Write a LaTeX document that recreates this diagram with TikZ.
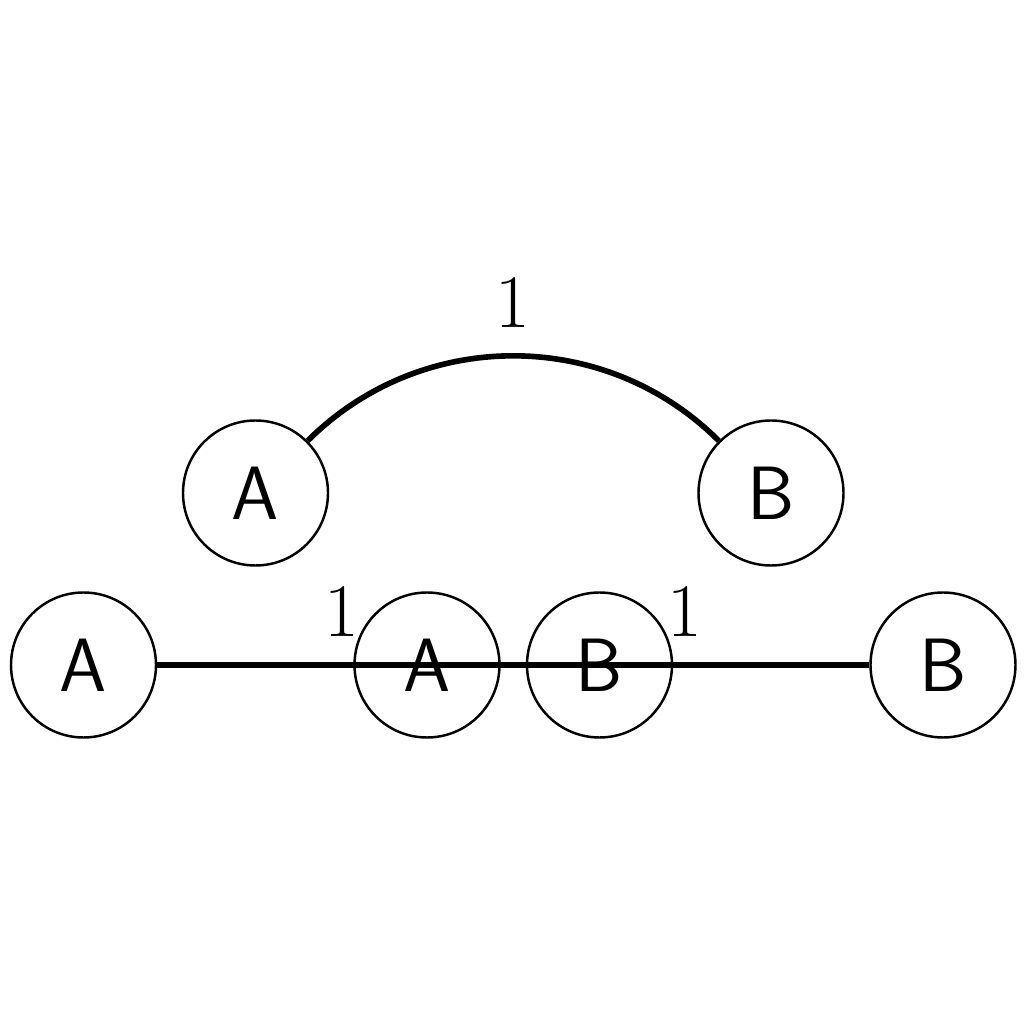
\documentclass[tikz,border=0pt]{standalone}
\begin{document}
\begin{tikzpicture}[
  vertex/.style={circle, draw, line width=0.7pt, minimum size=1.45cm, inner sep=0pt,
    font=\fontsize{21.5}{26}\selectfont\sffamily},
  edge/.style={line width=1.6pt},
  weight/.style={above, inner sep=7.2pt, font=\fontsize{21.5}{26}\selectfont}
]
\useasboundingbox (0,0) rectangle (10.24,10.24);

% upper pair joined by a bent edge
\node[vertex] (tA) at (2.555,5.31) {A};
\node[vertex] (tB) at (7.71,5.31) {B};
\draw[edge] (tA) to[bend left=45] node[weight] {1} (tB);

% lower row: two straight edges running through the middle pair
\node[vertex] (lA) at (0.835,3.59) {A};
\node[vertex] (mA) at (4.27,3.59) {A};
\node[vertex] (mB) at (5.995,3.59) {B};
\node[vertex] (rB) at (9.43,3.59) {B};
\draw[edge] (lA) -- node[weight] {1} (mB);
\draw[edge] (mA) -- node[weight] {1} (rB);
\end{tikzpicture}
\end{document}
